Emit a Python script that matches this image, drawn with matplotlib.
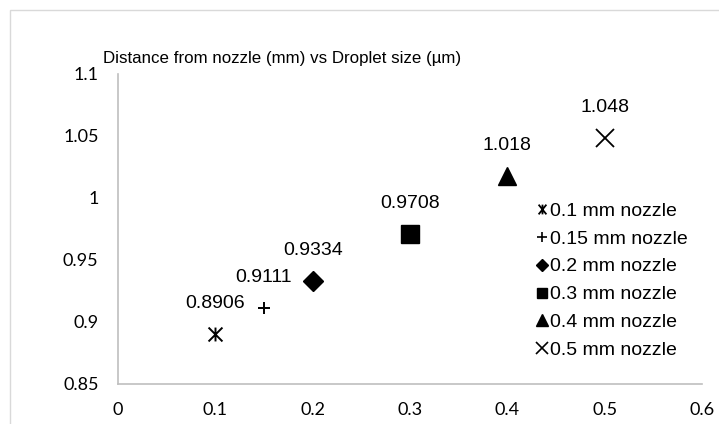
import matplotlib
matplotlib.use("Agg")
import matplotlib.pyplot as plt
from matplotlib.path import Path
from matplotlib.patches import Rectangle
from matplotlib.lines import Line2D

# data
nozzles = ["0.1 mm nozzle", "0.15 mm nozzle", "0.2 mm nozzle",
           "0.3 mm nozzle", "0.4 mm nozzle", "0.5 mm nozzle"]
x_vals = [0.1, 0.15, 0.2, 0.3, 0.4, 0.5]
y_vals = [0.8906, 0.9111, 0.9334, 0.9708, 1.018, 1.048]
labels = ["0.8906", "0.9111", "0.9334", "0.9708", "1.018", "1.048"]
x_ticks = [0, 0.1, 0.2, 0.3, 0.4, 0.5, 0.6]
x_ticklabels = ["0", "0.1", "0.2", "0.3", "0.4", "0.5", "0.6"]
y_ticks = [0.85, 0.9, 0.95, 1.0, 1.05, 1.1]
y_ticklabels = ["0.85", "0.9", "0.95", "1", "1.05", "1.1"]
title = "Distance from nozzle (mm) vs Droplet size (µm)"

W, H = 719, 424
fig = plt.figure(figsize=(W / 100, H / 100), dpi=100)
ax = fig.add_axes([118 / W, 1 - 384 / H, (702 - 118) / W, (384 - 74) / H])

# outer chart frame (partially cut in reference)
fig.patches.append(Rectangle((10 / W, -0.1), 1.2, 1 - 10 / H + 0.1,
                             transform=fig.transFigure, fill=False,
                             edgecolor="#d9d9d9", linewidth=1.0, clip_on=False))

ast_path = Path([(0, -0.5), (0, 0.5), (-0.5, -0.5), (0.5, 0.5),
                 (-0.5, 0.5), (0.5, -0.5)],
                [Path.MOVETO, Path.LINETO, Path.MOVETO, Path.LINETO,
                 Path.MOVETO, Path.LINETO])
ast_small = Path([(0, -0.5), (0, 0.5), (-0.4, -0.5), (0.4, 0.5),
                  (-0.4, 0.5), (0.4, -0.5)],
                 [Path.MOVETO, Path.LINETO, Path.MOVETO, Path.LINETO,
                  Path.MOVETO, Path.LINETO])

styles = [
    dict(marker=ast_path, ms=10, mfc="none", mec="black", mew=1.4),
    dict(marker="+", ms=9, mec="black", mew=1.4),
    dict(marker="D", ms=10.5, mfc="black", mec="black", mew=1),
    dict(marker="s", ms=13, mfc="black", mec="black", mew=1),
    dict(marker="^", ms=13.5, mfc="black", mec="black", mew=1),
    dict(marker="x", ms=12.5, mec="black", mew=1.3),
]

arial = "Liberation Sans"
for xv, yv, name, lab, st in zip(x_vals, y_vals, nozzles, labels, styles):
    ax.plot([xv], [yv], linestyle="none", label=name, **st)
    ax.annotate(lab, (xv, yv), xytext=(0, 22), textcoords="offset points",
                ha="center", va="center", fontsize=14, family=arial)

ax.set_xlim(0, 0.6)
ax.set_ylim(0.85, 1.1)
ax.set_xticks(x_ticks)
ax.set_xticklabels(x_ticklabels)
ax.set_yticks(y_ticks)
ax.set_yticklabels(y_ticklabels)
for lbl in ax.get_xticklabels() + ax.get_yticklabels():
    lbl.set_family("Lato")
    lbl.set_fontsize(13)
ax.tick_params(length=0, pad=0)
ax.tick_params(axis="y", pad=14)
ax.tick_params(axis="x", pad=13)
for s in ["top", "right"]:
    ax.spines[s].set_visible(False)
for s in ["left", "bottom"]:
    ax.spines[s].set_color("#bfbfbf")
    ax.spines[s].set_linewidth(1.2)

fig.text(282 / W, 1 - 59 / H, title, ha="center", va="center",
         fontsize=12.2, family=arial)

# legend
handles = []
leg_styles = [
    dict(marker=ast_small, ms=7, mfc="none", mec="black", mew=1.3),
    dict(marker="+", ms=7, mec="black", mew=1.2),
    dict(marker="D", ms=6.5, mfc="black", mec="black"),
    dict(marker="s", ms=7.5, mfc="black", mec="black"),
    dict(marker="^", ms=8.5, mfc="black", mec="black"),
    dict(marker="x", ms=8, mec="black", mew=1.2),
]
for name, st in zip(nozzles, leg_styles):
    handles.append(Line2D([], [], linestyle="none", **st))
leg = fig.legend(handles, nozzles, loc="upper left",
                 bbox_to_anchor=(537 / W, 1 - 202 / H), frameon=False,
                 handlelength=0.5, handletextpad=0.15, labelspacing=0.53,
                 borderpad=0, borderaxespad=0,
                 prop={"family": arial, "size": 14})

fig.savefig("out.png", dpi=100)
